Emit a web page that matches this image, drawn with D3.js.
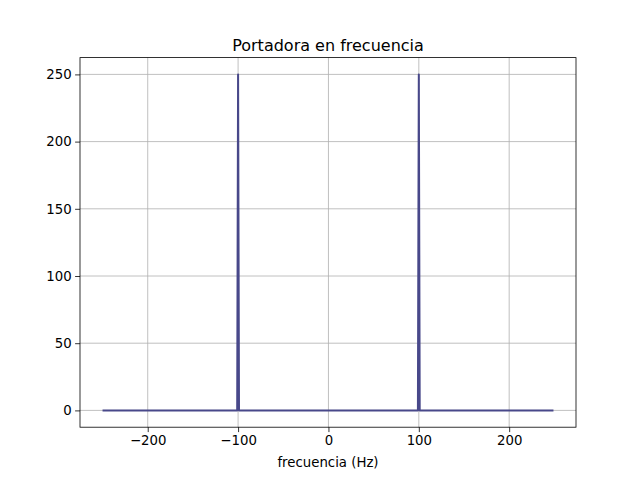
<!DOCTYPE html>
<html>
<head>
<meta charset="utf-8">
<script src="https://cdn.jsdelivr.net/npm/d3@7"></script>
<style>
  body { margin: 0; background: #fff; }
  svg { font-family: "DejaVu Sans", sans-serif; }
</style>
</head>
<body>
<div id="chart"></div>
<script>
// spectrum of the carrier (only the points where the shape changes)
var freqs = [-250, -101, -100, -99, 99, 100, 101, 249];
var magnitudes = [0, 0, 250, 0, 0, 250, 0, 0];
var xTicks = [-200, -100, 0, 100, 200];
var yTicks = [0, 50, 100, 150, 200, 250];

var data = freqs.map(function(f, i) { return {f: f, m: magnitudes[i]}; });

var margin = {top: 57.6, right: 64, bottom: 52.8, left: 80},
    width = 640 - margin.left - margin.right,
    height = 480 - margin.top - margin.bottom;

var svg = d3.select("#chart")
  .append("svg")
    .attr("width", 640)
    .attr("height", 480)
  .append("g")
    .attr("transform", "translate(" + margin.left + "," + margin.top + ")");

// matplotlib-like 5% margins
var xMin = d3.min(freqs), xMax = d3.max(freqs);
var xPad = (xMax - xMin) * 0.05;
var yMin = d3.min(magnitudes), yMax = d3.max(magnitudes);
var yPad = (yMax - yMin) * 0.05;

var x = d3.scaleLinear()
  .domain([xMin - xPad, xMax + xPad])
  .range([0, width]);

var y = d3.scaleLinear()
  .domain([yMin - yPad, yMax + yPad])
  .range([height, 0]);

// grid
svg.append("g")
  .selectAll("line")
  .data(xTicks)
  .enter()
  .append("line")
    .attr("x1", function(d) { return x(d); })
    .attr("x2", function(d) { return x(d); })
    .attr("y1", 0)
    .attr("y2", height)
    .attr("stroke", "#b0b0b0")
    .attr("stroke-width", 0.8);

svg.append("g")
  .selectAll("line")
  .data(yTicks)
  .enter()
  .append("line")
    .attr("x1", 0)
    .attr("x2", width)
    .attr("y1", function(d) { return y(d); })
    .attr("y2", function(d) { return y(d); })
    .attr("stroke", "#b0b0b0")
    .attr("stroke-width", 0.8);

// spectrum line
svg.append("path")
  .datum(data)
  .attr("fill", "none")
  .attr("stroke", "#48488a")
  .attr("stroke-width", 2)
  .attr("stroke-linejoin", "round")
  .attr("d", d3.line()
    .x(function(d) { return x(d.f); })
    .y(function(d) { return y(d.m); }));

// axes
var xAxis = svg.append("g")
  .attr("transform", "translate(0," + height + ")")
  .call(d3.axisBottom(x).tickValues(xTicks).tickSizeOuter(0).tickSize(4.9).tickPadding(3.5)
    .tickFormat(function(d) { return String(d).replace("-", "\u2212"); }));

var yAxis = svg.append("g")
  .call(d3.axisLeft(y).tickValues(yTicks).tickSizeOuter(0).tickSize(4.9).tickPadding(3.5));

[xAxis, yAxis].forEach(function(a) {
  a.select(".domain").remove();
  a.selectAll("text").attr("font-size", 13.3).attr("fill", "#000").attr("font-family", "DejaVu Sans, sans-serif");
  a.selectAll("line").attr("stroke", "#000").attr("stroke-width", 0.8);
});

// frame
svg.append("rect")
  .attr("width", width)
  .attr("height", height)
  .attr("fill", "none")
  .attr("stroke", "#000")
  .attr("stroke-width", 0.8);

// title and label
svg.append("text")
  .attr("x", width / 2)
  .attr("y", -7)
  .attr("text-anchor", "middle")
  .attr("font-size", 16)
  .text("Portadora en frecuencia");

svg.append("text")
  .attr("x", width / 2)
  .attr("y", height + 40)
  .attr("text-anchor", "middle")
  .attr("font-size", 13.3)
  .text("frecuencia (Hz)");
</script>
</body>
</html>
